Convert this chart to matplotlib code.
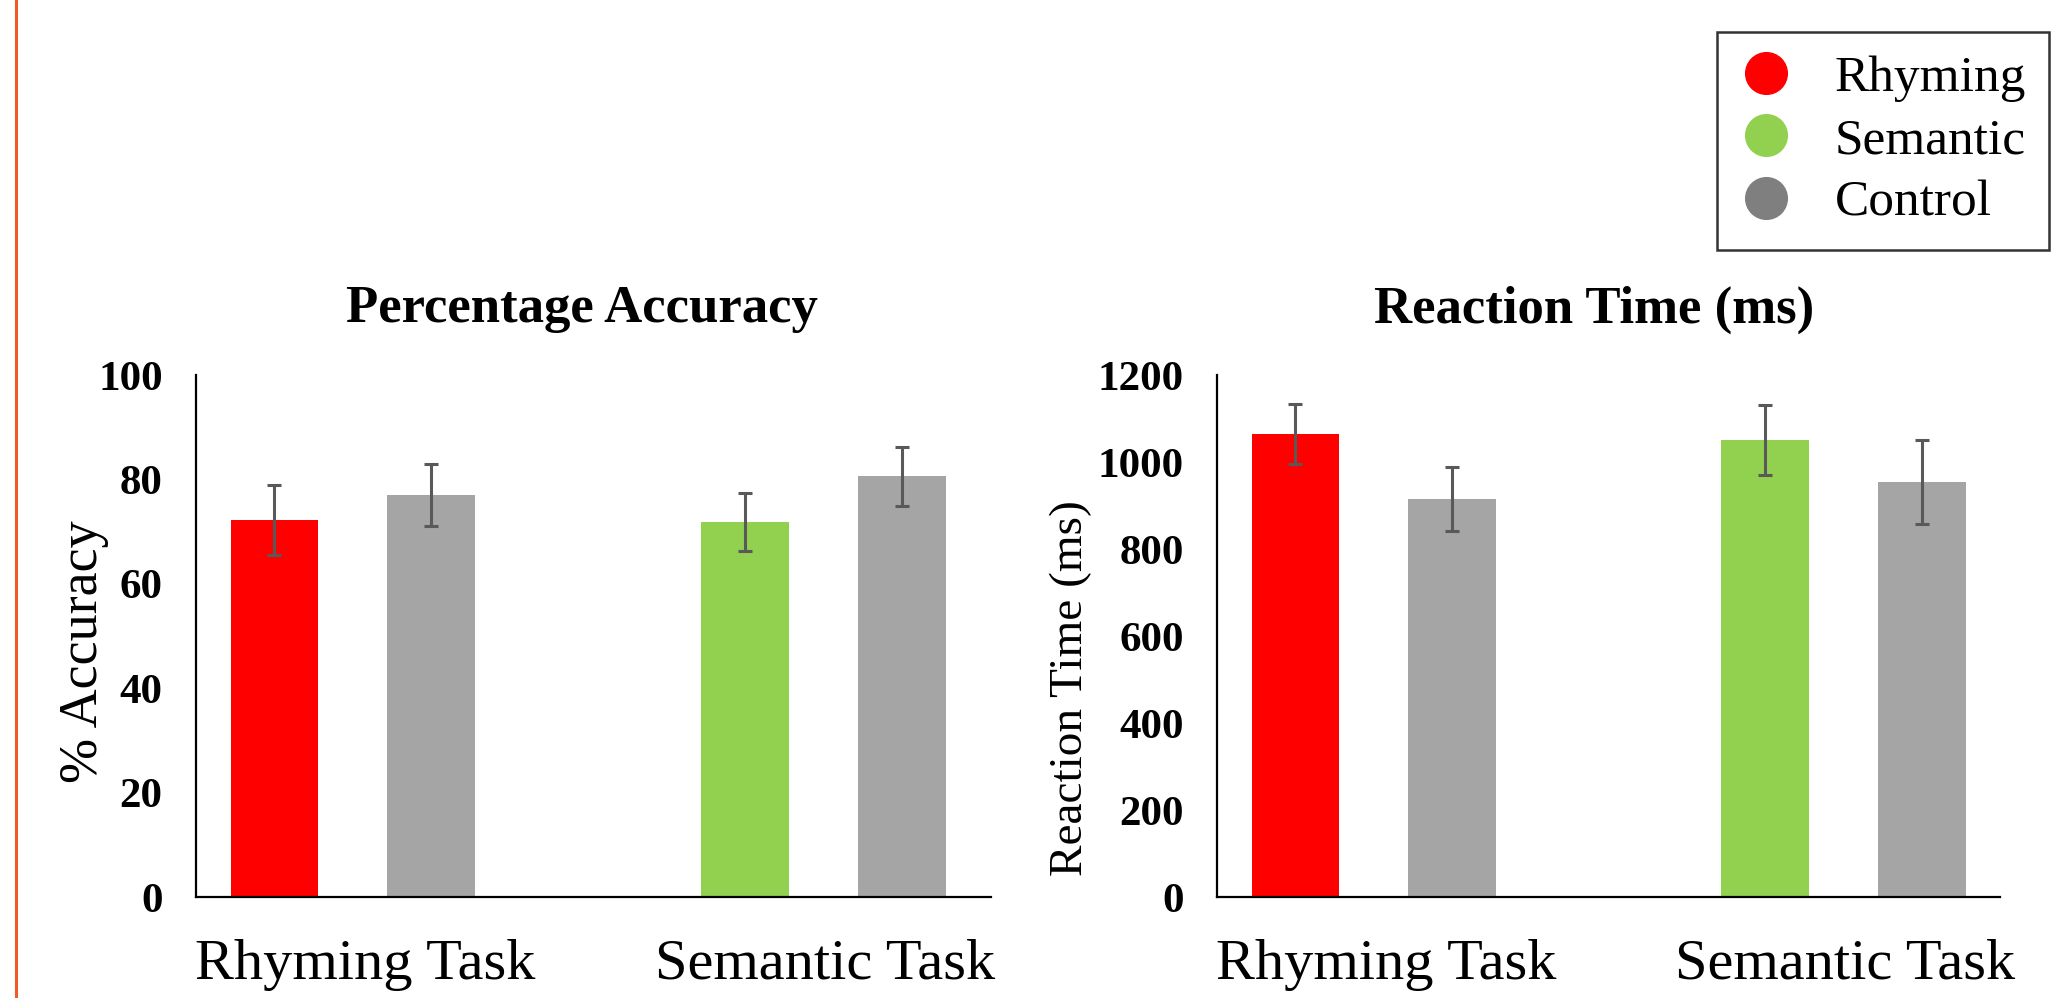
import matplotlib.pyplot as plt
from matplotlib.lines import Line2D

plt.rcParams['font.family'] = ['Liberation Serif', 'DejaVu Serif']

tasks = ['Rhyming Task', 'Semantic Task']
series = ['Rhyming', 'Semantic', 'Control']
legend_colors = ['#FF0000', '#92D050', '#7F7F7F']

# bar order: rhyming task (rhyming, control), semantic task (semantic, control)
bar_colors = ['#FF0000', '#A5A5A5', '#92D050', '#A5A5A5']
acc_mean = [72.2, 77.0, 71.8, 80.6]
acc_err = [6.7, 5.9, 5.6, 5.7]
rt_mean = [1064, 915, 1051, 954]
rt_err = [69, 73, 80, 97]

pos = [0.5, 1.5, 3.5, 4.5]
group_pos = [1.08, 4.01]

fig = plt.figure(figsize=(20.66, 9.98), dpi=100)
ax1 = fig.add_axes([0.0949, 0.1012, 0.3848, 0.5230])
ax2 = fig.add_axes([0.5891, 0.1012, 0.3790, 0.5230])

panels = [
    (ax1, acc_mean, acc_err, 'Percentage Accuracy', '% Accuracy', 100, 20, 39, -0.141, 0.47, 5.07, 0.486),
    (ax2, rt_mean, rt_err, 'Reaction Time (ms)', 'Reaction Time (ms)', 1200, 200, 34, -0.187, 0.40, 5.0, 0.481),
]

for ax, mean, err, title, ylab, ymax, step, ylsize, lx, ly, xmax, tx in panels:
    ax.bar(pos, mean, width=0.56, color=bar_colors, zorder=2)
    ax.errorbar(pos, mean, yerr=err, fmt='none', ecolor='#595959',
                elinewidth=2.2, capsize=5, capthick=2.2, zorder=3)
    ax.set_xlim(0, xmax)
    ax.set_ylim(0, ymax)
    ax.set_yticks(range(0, ymax + 1, step))
    ax.tick_params(axis='y', length=0, pad=24, labelsize=31)
    for lbl in ax.get_yticklabels():
        lbl.set_fontweight('bold')
    ax.set_xticks(group_pos)
    ax.set_xticklabels(tasks, fontsize=42)
    ax.tick_params(axis='x', length=0, pad=30)
    for s in ['top', 'right']:
        ax.spines[s].set_visible(False)
    ax.spines['left'].set_linewidth(1.6)
    ax.spines['bottom'].set_linewidth(1.6)
    ax.set_title(title, fontsize=38, fontweight='bold', pad=38, x=tx)
    ax.text(lx, ly, ylab, transform=ax.transAxes, rotation=90,
            ha='center', va='center', fontsize=ylsize)

handles = [Line2D([], [], marker='o', linestyle='none', markersize=30,
                  markerfacecolor=c, markeredgecolor=c) for c in legend_colors]
leg = fig.legend(handles, series, loc='upper right', bbox_to_anchor=(0.992, 0.968),
                 fontsize=37, frameon=True, fancybox=False, edgecolor='black',
                 handletextpad=0.85, labelspacing=0.3, borderpad=0.45, handlelength=1.0,
                 borderaxespad=0)
leg.get_frame().set_linewidth(1.8)

fig.add_artist(Line2D([0.0078, 0.0078], [0, 1], transform=fig.transFigure,
                      color='#F05A28', linewidth=2.2))

fig.savefig('out.png', dpi=100)
